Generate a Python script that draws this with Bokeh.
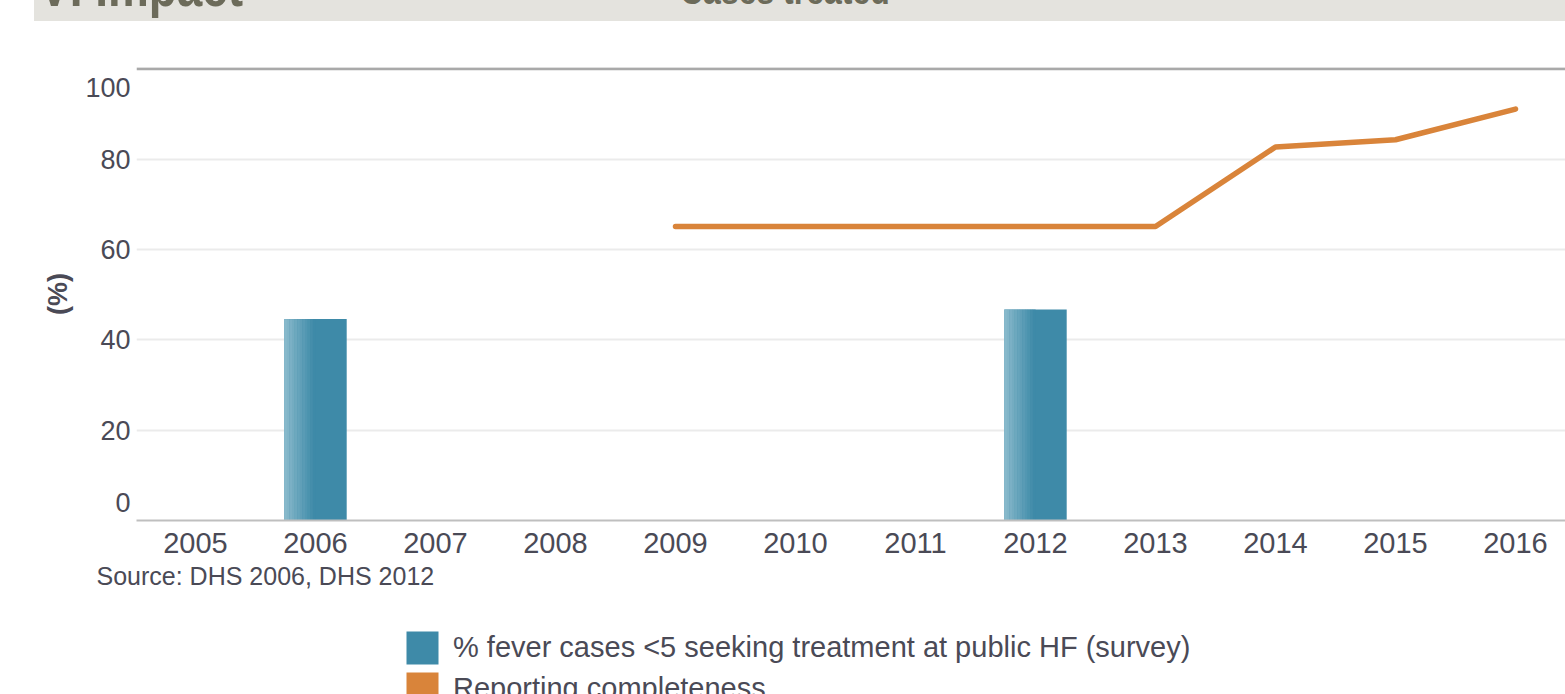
from bokeh.plotting import figure
from bokeh.layouts import column
from bokeh.models import (FixedTicker, Span, Legend, LegendItem, Range1d, Title, Div)
from bokeh.embed import file_html
from bokeh.resources import INLINE

# ---------------- data ----------------
years = [2005, 2006, 2007, 2008, 2009, 2010, 2011, 2012, 2013, 2014, 2015, 2016]
bar_years = [2006, 2012]
bar_values = [44.6, 46.7]
line_years = [2009, 2010, 2011, 2012, 2013, 2014, 2015, 2016]
line_values = [65.1, 65.1, 65.1, 65.1, 65.1, 82.7, 84.3, 91.1]
y_tick_values = [0, 20, 40, 60, 80, 100]
grid_ticks = [20, 40, 60, 80]
year_labels = [str(y) for y in years]
bar_label = "% fever cases <5 seeking treatment at public HF (survey)"
line_label = "Reporting completeness"
source_note = "Source: DHS 2006, DHS 2012"
y_title = "(%)"
header_left = "VI Impact"
header_center = "Cases treated"

# ---------------- style ----------------
FONT = "Liberation Sans"
TEXT = "#4a4a56"
BAR = "#3e8aa8"
BAR_LIGHT = "#88b9cb"
LINE = "#d9843a"
W = 1565
HEADER_H = 21
MAIN_H = 579            # 21 .. 600
FOOT_H = 694 - HEADER_H - MAIN_H
BAND = 120.0            # px per category
FRAME_LEFT = 136
FIRST_CENTER = 195
FRAME_TOP = 46          # frame top at 67 on the page
FRAME_BOTTOM = 80       # frame bottom at 520 on the page
Y_END = 100.3

x_start = years[0] - (FIRST_CENTER - FRAME_LEFT) / BAND
x_end = years[0] + (W - FIRST_CENTER) / BAND

# ---------------- header strip (clipped, as in the source page) ----------------
span_style = ("position:absolute;font-family:'Liberation Sans Narrow','Liberation Sans';"
              "font-weight:bold;line-height:1;color:#6c6b5a;white-space:nowrap;"
              "transform:scaleX(0.82);transform-origin:0 0;")
header_html = (
    '<div style="position:relative;width:%dpx;height:%dpx;overflow:hidden;">'
    '<div style="position:absolute;left:34px;top:0;width:%dpx;height:%dpx;background:#e4e3de;"></div>'
    '<span style="%sleft:39px;top:-41px;font-size:56px;">%s</span>'
    '<span style="%sleft:680px;top:-29px;font-size:39px;">%s</span>'
    '</div>' % (W, HEADER_H, W - 34, HEADER_H, span_style, header_left, span_style, header_center)
)
header = Div(text=header_html, width=W, height=HEADER_H, margin=0,
             styles={"overflow": "hidden"})

# ---------------- main chart ----------------
p = figure(width=W, height=MAIN_H, output_backend="svg", toolbar_location=None,
           x_range=Range1d(x_start, x_end), y_range=Range1d(0, Y_END),
           min_border_left=FRAME_LEFT, min_border_right=0,
           min_border_top=FRAME_TOP, min_border_bottom=FRAME_BOTTOM,
           outline_line_color=None)

frame_h = MAIN_H - FRAME_TOP - FRAME_BOTTOM
px_per_unit = frame_h / Y_END
# the end labels (0 and 100) are drawn a little inward of their grid lines
y_tick_pos = list(y_tick_values)
y_tick_pos[0] = y_tick_values[0] + 18 / px_per_unit
y_tick_pos[-1] = y_tick_values[-1] - 18.5 / px_per_unit
y_tick_pos = [round(v, 3) for v in y_tick_pos]

p.xgrid.visible = False
p.ygrid.ticker = FixedTicker(ticks=grid_ticks)
p.ygrid.grid_line_color = "#ebebeb"
p.ygrid.grid_line_width = 2

p.xaxis.ticker = FixedTicker(ticks=years)
p.xaxis.major_label_overrides = {y: l for y, l in zip(years, year_labels)}
p.xaxis.axis_line_color = "#bfbfbf"
p.xaxis.axis_line_width = 2
p.xaxis.major_tick_line_color = None
p.xaxis.major_tick_out = 0
p.xaxis.minor_tick_line_color = None
p.xaxis.major_label_text_font = FONT
p.xaxis.major_label_text_font_size = "29px"
p.xaxis.major_label_text_color = TEXT
p.xaxis.major_label_standoff = 12

p.yaxis.ticker = FixedTicker(ticks=y_tick_pos)
p.yaxis.major_label_overrides = {t: str(v) for t, v in zip(y_tick_pos, y_tick_values)}
p.yaxis.axis_line_color = None
p.yaxis.major_tick_line_color = None
p.yaxis.major_tick_out = 0
p.yaxis.minor_tick_line_color = None
p.yaxis.major_label_text_font = FONT
p.yaxis.major_label_text_font_size = "27px"
p.yaxis.major_label_text_color = TEXT
p.yaxis.major_label_standoff = 6
p.yaxis.axis_label = y_title
p.yaxis.axis_label_text_font = FONT
p.yaxis.axis_label_text_font_style = "bold"
p.yaxis.axis_label_text_font_size = "27px"
p.yaxis.axis_label_text_color = TEXT
p.yaxis.axis_label_standoff = 9

# top rule
p.add_layout(Span(location=y_tick_values[-1], dimension="width", line_color="#a9a9a9", line_width=3))

# bars
bw = 0.52
bars = p.vbar(x=bar_years, top=bar_values, bottom=0, width=bw, fill_color=BAR, line_color=None)

def mix(c1, c2, t):
    a = [int(c1[i:i + 2], 16) for i in (1, 3, 5)]
    b = [int(c2[i:i + 2], 16) for i in (1, 3, 5)]
    return "#%02x%02x%02x" % tuple(round(a[j] + (b[j] - a[j]) * t) for j in range(3))

# left-side gradient of the bars, approximated by narrow strips
n = 12
sw = bw * 0.5 / n
for k in range(n):
    xs = [yr - bw / 2 + (k + 0.5) * sw for yr in bar_years]
    p.vbar(x=xs, top=bar_values, bottom=0, width=sw * 1.1,
           fill_color=mix(BAR_LIGHT, BAR, k / (n - 1)), line_color=None)

# line
p.line(line_years, line_values, line_color=LINE, line_width=5.5,
       line_cap="round", line_join="round")

# source note under the axis
p.add_layout(Title(text=source_note, align="left", offset=-40, standoff=9,
                   text_font=FONT, text_font_size="25px", text_font_style="normal",
                   text_color=TEXT), "below")

# ---------------- legend strip ----------------
foot = figure(width=W, height=FOOT_H, output_backend="svg", toolbar_location=None,
              x_range=Range1d(0, 1), y_range=Range1d(0, 1),
              x_axis_location=None, y_axis_location=None,
              min_border_left=FRAME_LEFT, min_border_right=0,
              min_border_top=0, min_border_bottom=0, outline_line_color=None)
foot.grid.visible = False
# swatch renderers for the legend (their single mark lies outside the visible range)
sw_bar = foot.vbar(x=[5], top=[1], bottom=[0], width=0.5, fill_color=BAR, line_color=None)
sw_line = foot.vbar(x=[5], top=[1], bottom=[0], width=0.5, fill_color=LINE, line_color=None)
legend = Legend(items=[LegendItem(label=bar_label, renderers=[sw_bar]),
                       LegendItem(label=line_label, renderers=[sw_line])],
                location=(266, -15), orientation="vertical",
                glyph_width=40, glyph_height=41, label_standoff=11, spacing=0,
                padding=0, margin=0, border_line_color=None, background_fill_alpha=0,
                label_text_font=FONT, label_text_font_size="29px", label_text_color=TEXT)
foot.add_layout(legend, "center")

layout = column(header, p, foot, spacing=0)
open("out.html", "w").write(file_html(layout, INLINE))
